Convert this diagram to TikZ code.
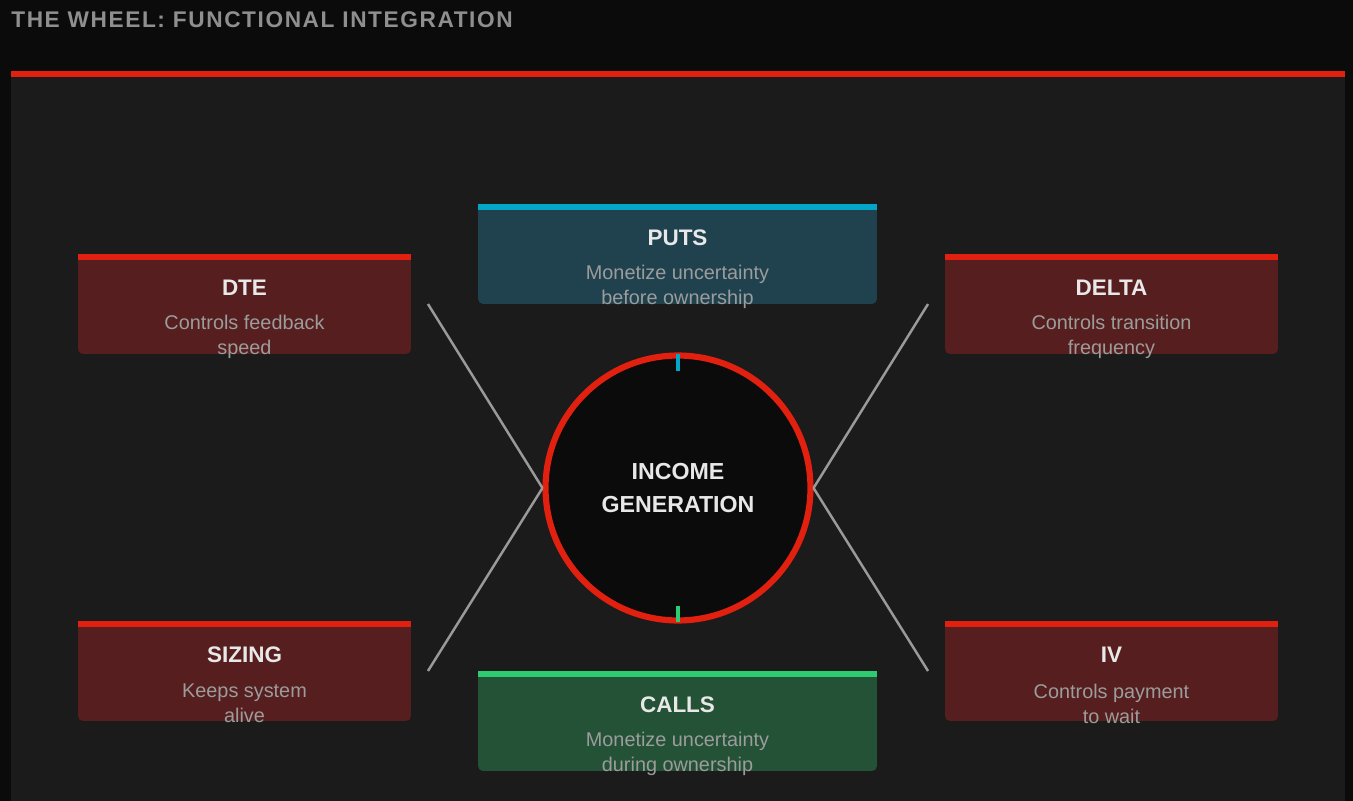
\documentclass[tikz,border=0pt]{standalone}
\usepackage{fontspec}
\setmainfont{Liberation Sans}
\newfontfamily\headfont[LetterSpace=7]{Liberation Sans}
\usetikzlibrary{positioning}
\definecolor{pagebg}{HTML}{0B0B0B}
\definecolor{panelbg}{HTML}{1B1B1B}
\definecolor{wheelred}{HTML}{E2200F}
\definecolor{redfill}{HTML}{561E1E}
\definecolor{putsfill}{HTML}{1F424E}
\definecolor{putsbar}{HTML}{03A6C9}
\definecolor{callsfill}{HTML}{235236}
\definecolor{callsbar}{HTML}{2ECC71}
\definecolor{hubfill}{HTML}{0B0B0B}
\definecolor{headgray}{HTML}{8F8F8F}
\definecolor{titlewhite}{HTML}{E8E8E8}
\definecolor{descgray}{HTML}{9C9C9C}
\definecolor{spokegray}{HTML}{9A9A9A}
\begin{document}
\begin{tikzpicture}[x=0.02cm, y=-0.02cm,
		card/.style={fill=#1, rounded corners=0.1cm, minimum width=6.66cm, minimum height=2cm, inner sep=0pt, outer sep=0pt},
		widecard/.style={card=#1, minimum width=7.98cm},
		cardtitle/.style={text=titlewhite, font=\bfseries\fontsize{12.8}{15}\selectfont, inner sep=0pt},
		carddesc/.style={text=descgray, align=center, font=\fontsize{11.3}{14.2}\selectfont, inner sep=0pt},
		spoke/.style={draw=spokegray, line width=1.4pt},
		tick/.style={line width=1.9pt},
	]
	\fill[pagebg] (0,0) rectangle (1353,801);
	\fill[panelbg] (11,76) rectangle (1345,801);
	\fill[wheelred] (11,71) rectangle (1345,77);
	\node[anchor=west, inner sep=0pt, text=headgray, font=\headfont\bfseries\fontsize{12.9}{14}\selectfont] (heading) at (11,20) {THE WHEEL: FUNCTIONAL INTEGRATION};

	% hub
	\node[circle, draw=wheelred, line width=3.5pt, fill=hubfill, minimum size=5.3cm, align=center, text=titlewhite,
		font=\bfseries\fontsize{13.2}{18.7}\selectfont] (hub) at (678,488) {INCOME\\GENERATION};

	% cards
	\node[card=redfill] (dte) at (244.5,304) {};
	\fill[wheelred] (dte.north west) rectangle ([yshift=-0.12cm]dte.north east);
	\node[cardtitle] (dte-title) at ([yshift=-0.68cm]dte.north) {DTE};
	\node[carddesc] (dte-desc) at ([yshift=-1.65cm]dte.north) {Controls feedback\\speed};

	\node[widecard=putsfill] (puts) at (677.5,254) {};
	\fill[putsbar] (puts.north west) rectangle ([yshift=-0.12cm]puts.north east);
	\node[cardtitle] (puts-title) at ([yshift=-0.68cm]puts.north) {PUTS};
	\node[carddesc] (puts-desc) at ([yshift=-1.65cm]puts.north) {Monetize uncertainty\\before ownership};

	\node[card=redfill] (delta) at (1111.5,304) {};
	\fill[wheelred] (delta.north west) rectangle ([yshift=-0.12cm]delta.north east);
	\node[cardtitle] (delta-title) at ([yshift=-0.68cm]delta.north) {DELTA};
	\node[carddesc] (delta-desc) at ([yshift=-1.65cm]delta.north) {Controls transition\\frequency};

	\node[card=redfill] (sizing) at (244.5,671) {};
	\fill[wheelred] (sizing.north west) rectangle ([yshift=-0.12cm]sizing.north east);
	\node[cardtitle] (sizing-title) at ([yshift=-0.68cm]sizing.north) {SIZING};
	\node[carddesc] (sizing-desc) at ([yshift=-1.65cm]sizing.north) {Keeps system\\alive};

	\node[widecard=callsfill] (calls) at (677.5,721) {};
	\fill[callsbar] (calls.north west) rectangle ([yshift=-0.12cm]calls.north east);
	\node[cardtitle] (calls-title) at ([yshift=-0.68cm]calls.north) {CALLS};
	\node[carddesc] (calls-desc) at ([yshift=-1.65cm]calls.north) {Monetize uncertainty\\during ownership};

	\node[card=redfill] (iv) at (1111.5,671) {};
	\fill[wheelred] (iv.north west) rectangle ([yshift=-0.12cm]iv.north east);
	\node[cardtitle] (iv-title) at ([yshift=-0.68cm]iv.north) {IV};
	\node[carddesc] (iv-desc) at ([yshift=-1.65cm]iv.north) {Controls payment\\to wait};

	% spokes
	\draw[spoke] ([xshift=0.34cm]dte.east) -- (hub.west);
	\draw[spoke] ([xshift=0.34cm]sizing.east) -- (hub.west);
	\draw[spoke] ([xshift=-0.34cm]delta.west) -- (hub.east);
	\draw[spoke] ([xshift=-0.34cm]iv.west) -- (hub.east);

	% ticks
	\draw[tick, putsbar] ([yshift=-0.04cm]hub.north) -- ++(0,17);
	\draw[tick, callsbar] ([yshift=0.04cm]hub.south) -- ++(0,-16);
\end{tikzpicture}
\end{document}
